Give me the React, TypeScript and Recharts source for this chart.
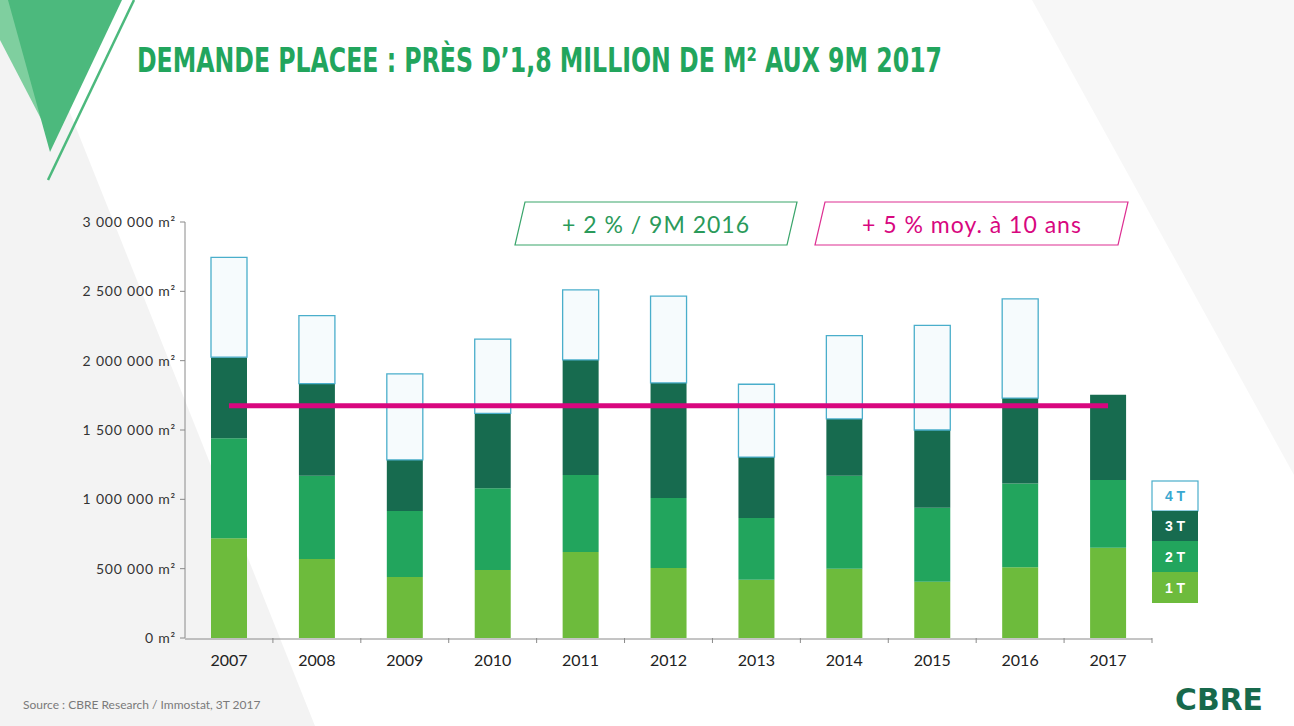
import { Bar, ComposedChart, Line, XAxis, YAxis } from 'recharts';

// Demande placée par trimestre (m²)
const years = ['2007', '2008', '2009', '2010', '2011', '2012', '2013', '2014', '2015', '2016', '2017'];
const t1 = [720000, 570000, 440000, 490000, 620000, 505000, 420000, 500000, 405000, 510000, 650000];
const t2 = [720000, 600000, 475000, 590000, 555000, 505000, 445000, 670000, 535000, 605000, 490000];
const t3 = [585000, 665000, 370000, 540000, 830000, 830000, 440000, 410000, 560000, 615000, 615000];
const t4 = [720000, 490000, 620000, 535000, 505000, 625000, 525000, 600000, 755000, 715000, null];
const avg10 = 1675000;
const yTicks = [0, 500000, 1000000, 1500000, 2000000, 2500000, 3000000];
const bandTicks = years.map((_, i) => i + 1);

const data = years.map((y, i) => ({
    year: y,
    pos: i + 0.5,
    t1: t1[i],
    t2: t2[i],
    t3: t3[i],
    t4: t4[i],
    avg: avg10,
}));

const fmt = (v: number) => v.toLocaleString('fr-FR').replace(/[\u202f\u00a0]/g, ' ') + ' m²';

const C1 = '#6dbb3c';
const C2 = '#22a55d';
const C3 = '#176b4f';
const C4 = '#f6fbfd';
const C4_STROKE = '#4aaecb';
const PINK = '#d8077f';
const font = "Lato, 'Open Sans', sans-serif";

const Background = () => (
    <svg width={1294} height={726} style={{ position: 'absolute', left: 0, top: 0 }}>
        <rect width={1294} height={726} fill='#fff' />
        <polygon points='0,0 25,0 315,726 0,726' fill='#f3f3f3' />
        <polygon points='1032,0 1294,0 1294,475' fill='#f7f7f7' />
        <polygon points='0,0 10,0 52,140 0,40' fill='#7fcf9f' />
        <polygon points='8,0 122,0 50,152' fill='#4cb97d' />
        <line x1={134} y1={0} x2={48} y2={180} stroke='#4cb97d' strokeWidth={2.5} />
    </svg>
);

const Overlay = () => (
    <svg width={1294} height={726} style={{ position: 'absolute', left: 0, top: 0, pointerEvents: 'none' }}>
        <text x={137} y={72} fill='#22a55d' fontSize={34} fontWeight={700}
            fontFamily="'Liberation Sans Narrow', 'DejaVu Sans Condensed', sans-serif"
            textLength={805} lengthAdjust='spacingAndGlyphs'>
            DEMANDE PLACEE : PRÈS D’1,8 MILLION DE M² AUX 9M 2017
        </text>

        <polygon points='525,202 797,202 787,245 515,245' fill='#fff' stroke='#3aa56b' strokeWidth={1.2} />
        <text x={656} y={233} textAnchor='middle' fill='#2a9a5a' fontSize={23} letterSpacing={1} fontFamily={font}>+ 2 % / 9M 2016</text>
        <polygon points='825,202 1128,202 1118,245 815,245' fill='#fff' stroke='#dd2f92' strokeWidth={1.2} />
        <text x={972} y={233} textAnchor='middle' fill={PINK} fontSize={23} letterSpacing={1} fontFamily={font}>+ 5 % moy. à 10 ans</text>

        <rect x={1152} y={481} width={46} height={30} fill='#fff' stroke={C4_STROKE} strokeWidth={1.2} />
        <text x={1175} y={501} textAnchor='middle' fill='#3aa7d0' fontSize={14} fontWeight={700} fontFamily='Arial, sans-serif'>4 T</text>
        <rect x={1152} y={511} width={46} height={30} fill={C3} />
        <text x={1175} y={531} textAnchor='middle' fill='#fff' fontSize={14} fontWeight={700} fontFamily='Arial, sans-serif'>3 T</text>
        <rect x={1152} y={541} width={46} height={31} fill={C2} />
        <text x={1175} y={562} textAnchor='middle' fill='#fff' fontSize={14} fontWeight={700} fontFamily='Arial, sans-serif'>2 T</text>
        <rect x={1152} y={572} width={46} height={31} fill={C1} />
        <text x={1175} y={593} textAnchor='middle' fill='#fff' fontSize={14} fontWeight={700} fontFamily='Arial, sans-serif'>1 T</text>

        <text x={23} y={709} fill='#7a7a7a' fontSize={12} fontFamily={font}>Source : CBRE Research / Immostat, 3T 2017</text>
        <text x={1175} y={710} fill='#17694c' fontSize={30} fontWeight={700}
            fontFamily="'DejaVu Sans', sans-serif" textLength={88} lengthAdjust='spacingAndGlyphs'>CBRE</text>
    </svg>
);

const NoLabel = () => <g />;

export default function App() {
    return (
        <div style={{ position: 'absolute', left: 0, top: 0, width: 1294, height: 726, overflow: 'hidden' }}>
            <Background />
            <div style={{ position: 'absolute', left: 0, top: 0 }}>
                <ComposedChart
                    width={1294}
                    height={726}
                    data={data}
                    margin={{ top: 222, right: 142, bottom: 58, left: 65 }}
                    barSize={36}
                >
                    <XAxis
                        xAxisId='band'
                        dataKey='pos'
                        type='number'
                        domain={[0, years.length]}
                        allowDataOverflow
                        ticks={bandTicks}
                        interval={0}
                        height={1}
                        axisLine={false}
                        tickLine={{ stroke: '#8a8a8a' }}
                        tickSize={5}
                        tick={NoLabel}
                    />
                    <XAxis
                        xAxisId='cat'
                        dataKey='year'
                        height={29}
                        tickLine={false}
                        axisLine={{ stroke: '#8a8a8a' }}
                        tick={{ fill: '#222', fontSize: 16, fontFamily: font }}
                        tickMargin={10}
                    />
                    <YAxis
                        width={120}
                        domain={[0, 3000000]}
                        ticks={yTicks}
                        tickFormatter={fmt}
                        axisLine={{ stroke: '#8a8a8a' }}
                        tickLine={{ stroke: '#8a8a8a' }}
                        tickSize={5}
                        tickMargin={4}
                        tick={{ fill: '#333', fontSize: 14, letterSpacing: 0.8, fontFamily: font }}
                    />
                    <Bar xAxisId='cat' dataKey='t1' stackId='a' fill={C1} isAnimationActive={false} />
                    <Bar xAxisId='cat' dataKey='t2' stackId='a' fill={C2} isAnimationActive={false} />
                    <Bar xAxisId='cat' dataKey='t3' stackId='a' fill={C3} isAnimationActive={false} />
                    <Bar xAxisId='cat' dataKey='t4' stackId='a' fill={C4} stroke={C4_STROKE} strokeWidth={1.3} isAnimationActive={false} />
                    <Line xAxisId='band' dataKey='avg' stroke={PINK} strokeWidth={5} dot={false} activeDot={false} isAnimationActive={false} />
                </ComposedChart>
            </div>
            <Overlay />
        </div>
    );
}
